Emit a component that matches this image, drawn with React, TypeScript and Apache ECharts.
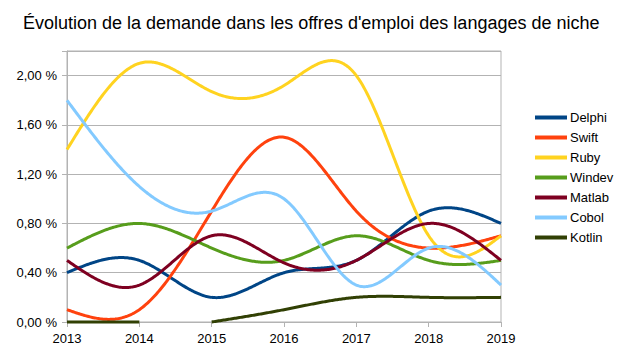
import React, { useEffect, useRef } from "react";
import * as echarts from "echarts";

const TITLE = "Évolution de la demande dans les offres d'emploi des langages de niche";
const years = [2013, 2014, 2015, 2016, 2017, 2018, 2019];
const yTicks = [0, 0.4, 0.8, 1.2, 1.6, 2.0];

const delphi = [0.4, 0.5, 0.2, 0.4, 0.5, 0.9, 0.8];
const swift = [0.1, 0.1, 0.9, 1.5, 0.9, 0.6, 0.7];
const ruby = [1.4, 2.1, 1.87, 1.92, 2.0, 0.7, 0.7];
const windev = [0.6, 0.8, 0.6, 0.5, 0.7, 0.5, 0.5];
const matlab = [0.5, 0.3, 0.7, 0.48, 0.5, 0.8, 0.5];
const cobol = [1.8, 1.1, 0.9, 1.0, 0.3, 0.6, 0.3];
// Kotlin: no line between 2014 and 2015
const kotlinEarlyYears = [2013, 2014];
const kotlinEarly = [0, 0];
const kotlinLateYears = [2015, 2016, 2017, 2018, 2019];
const kotlinLate = [0, 0.1, 0.2, 0.2, 0.2];

type Run = { xs: number[]; ys: number[] };

const seriesDefs: { name: string; color: string; runs: Run[] }[] = [
  { name: "Delphi", color: "#004586", runs: [{ xs: years, ys: delphi }] },
  { name: "Swift", color: "#ff420e", runs: [{ xs: years, ys: swift }] },
  { name: "Ruby", color: "#ffd320", runs: [{ xs: years, ys: ruby }] },
  { name: "Windev", color: "#579d1c", runs: [{ xs: years, ys: windev }] },
  { name: "Matlab", color: "#7e0021", runs: [{ xs: years, ys: matlab }] },
  { name: "Cobol", color: "#83caff", runs: [{ xs: years, ys: cobol }] },
  {
    name: "Kotlin",
    color: "#314004",
    runs: [
      { xs: kotlinEarlyYears, ys: kotlinEarly },
      { xs: kotlinLateYears, ys: kotlinLate },
    ],
  },
];

function naturalSpline(xs: number[], ys: number[]) {
  const n = xs.length;
  if (n < 3) {
    return (x: number) => {
      const t = (x - xs[0]) / (xs[n - 1] - xs[0] || 1);
      return ys[0] + t * (ys[n - 1] - ys[0]);
    };
  }
  const h: number[] = [];
  for (let i = 0; i < n - 1; i++) h.push(xs[i + 1] - xs[i]);
  const M = new Array(n).fill(0);
  const m = n - 2;
  const a: number[] = [], b: number[] = [], c: number[] = [], d: number[] = [];
  for (let i = 1; i <= m; i++) {
    a.push(h[i - 1]);
    b.push(2 * (h[i - 1] + h[i]));
    c.push(h[i]);
    d.push(6 * ((ys[i + 1] - ys[i]) / h[i] - (ys[i] - ys[i - 1]) / h[i - 1]));
  }
  for (let i = 1; i < m; i++) {
    const w = a[i] / b[i - 1];
    b[i] -= w * c[i - 1];
    d[i] -= w * d[i - 1];
  }
  const sol = new Array(m).fill(0);
  sol[m - 1] = d[m - 1] / b[m - 1];
  for (let i = m - 2; i >= 0; i--) sol[i] = (d[i] - c[i] * sol[i + 1]) / b[i];
  for (let i = 0; i < m; i++) M[i + 1] = sol[i];
  return (x: number) => {
    let i = 0;
    while (i < n - 2 && x > xs[i + 1]) i++;
    const hi = h[i];
    const A = xs[i + 1] - x;
    const B = x - xs[i];
    return (
      (M[i] * A * A * A) / (6 * hi) +
      (M[i + 1] * B * B * B) / (6 * hi) +
      (ys[i] / hi - (M[i] * hi) / 6) * A +
      (ys[i + 1] / hi - (M[i + 1] * hi) / 6) * B
    );
  };
}

function buildSeries(def: { name: string; color: string; runs: Run[] }) {
  const data: number[][] = [];
  const runStarts: Record<number, Run> = {};
  def.runs.forEach((r) => {
    runStarts[data.length] = r;
    r.xs.forEach((x, i) => data.push([x, r.ys[i]]));
  });
  const fns = new Map<Run, (x: number) => number>();
  def.runs.forEach((r) => fns.set(r, naturalSpline(r.xs, r.ys)));
  return {
    type: "custom",
    name: def.name,
    itemStyle: { color: def.color },
    encode: { x: 0, y: 1 },
    data,
    renderItem: (params: any, api: any) => {
      const run = runStarts[params.dataIndex];
      if (!run) return null;
      const f = fns.get(run)!;
      const pts: number[][] = [];
      const x0 = run.xs[0];
      const x1 = run.xs[run.xs.length - 1];
      const steps = Math.max(1, Math.round((x1 - x0) * 60));
      for (let k = 0; k <= steps; k++) {
        const x = x0 + ((x1 - x0) * k) / steps;
        pts.push(api.coord([x, f(x)]));
      }
      return {
        type: "polyline",
        shape: { points: pts },
        style: { stroke: def.color, lineWidth: 3, fill: null, lineJoin: "round", lineCap: "butt" },
      };
    },
  };
}

export default function App() {
  const ref = useRef<HTMLDivElement>(null);
  useEffect(() => {
    const chart = echarts.init(ref.current!, null, { renderer: "svg" });
    chart.setOption({
      animation: false,
      backgroundColor: "#ffffff",
      textStyle: { fontFamily: "Liberation Sans" },
      title: {
        text: TITLE,
        left: 23,
        top: 14,
        padding: 0,
        textStyle: { fontFamily: "Liberation Sans", fontSize: 18, fontWeight: "normal", color: "#000000" },
      },
      legend: {
        orient: "vertical",
        left: 535,
        top: 111,
        padding: 0,
        itemWidth: 32,
        itemHeight: 4,
        itemGap: 7,
        icon: "rect",
        textStyle: { fontFamily: "Liberation Sans", fontSize: 13, color: "#000000", padding: [0, 0, 0, -2] },
        data: seriesDefs.map((s) => s.name),
      },
      grid: {
        left: 67,
        right: 129,
        top: 51,
        bottom: 33,
        show: true,
        borderColor: "#b3b3b3",
        borderWidth: 1,
      },
      xAxis: {
        type: "value",
        min: 2013,
        max: 2019,
        interval: 1,
        axisLine: { show: true, lineStyle: { color: "#b3b3b3" } },
        axisTick: { show: true, length: 5, lineStyle: { color: "#b3b3b3" } },
        splitLine: { show: false },
        axisLabel: {
          color: "#000000",
          fontSize: 13,
          margin: 10,
          fontFamily: "Liberation Sans",
          formatter: (v: number) => String(v),
        },
      },
      yAxis: {
        type: "value",
        min: 0,
        max: 2.2,
        interval: 0.4,
        axisLine: { show: true, lineStyle: { color: "#b3b3b3" } },
        axisTick: { show: true, length: 5, lineStyle: { color: "#b3b3b3" } },
        splitLine: { show: true, lineStyle: { color: "#b3b3b3" } },
        axisLabel: {
          color: "#000000",
          fontSize: 13,
          margin: 10,
          fontFamily: "Liberation Sans",
          formatter: (v: number) => {
            const match = yTicks.some((t) => Math.abs(t - v) < 1e-6);
            return match ? v.toFixed(2).replace(".", ",") + " %" : "";
          },
        },
      },
      series: seriesDefs.map(buildSeries),
    });
    return () => chart.dispose();
  }, []);
  return <div ref={ref} style={{ width: 630, height: 355, position: "absolute", left: 0, top: 0 }} />;
}
